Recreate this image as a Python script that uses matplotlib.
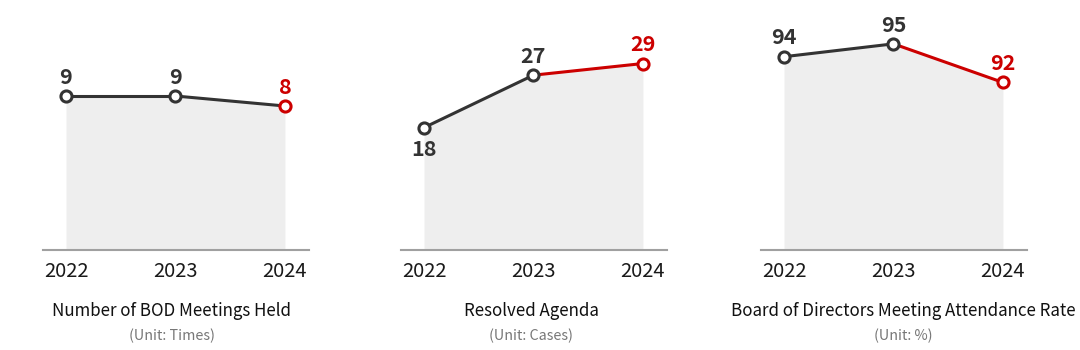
import matplotlib
matplotlib.use("Agg")
import matplotlib.pyplot as plt

plt.rcParams['font.family'] = ['Noto Sans CJK KR', 'DejaVu Sans']

# data
years = [2022, 2023, 2024]
meetings = [9, 9, 8]
agenda = [18, 27, 29]
attendance = [94, 95, 92]
titles = ["Number of BOD Meetings Held", "Resolved Agenda",
          "Board of Directors Meeting Attendance Rate"]
units = ["(Unit: Times)", "(Unit: Cases)", "(Unit: %)"]

DARK = "#333333"
RED = "#cc0000"
FILL = "#eeeeee"
BASE = "#a0a0a0"

fig = plt.figure(figsize=(10.8, 3.5), dpi=100)
W, H = 1080, 350

# panel layout (pixels): left edge, y-limits, label side, colour of each segment, title centre
panels = [
    dict(vals=meetings, left=43, ylim=(-6.4, 18.6), side=['up', 'up', 'up'],
         seg=[DARK, DARK], cx=172),
    dict(vals=agenda, left=401, ylim=(-3.0, 39.9), side=['down', 'up', 'up'],
         seg=[DARK, RED], cx=531),
    dict(vals=attendance, left=761, ylim=(78.97, 98.41), side=['up', 'up', 'up'],
         seg=[DARK, RED], cx=903),
]

for p, title, unit in zip(panels, titles, units):
    ax = fig.add_axes([p['left'] / W, 1 - 250 / H, 266 / W, 250 / H])
    vals = p['vals']
    ax.set_xlim(2021.79, 2024.22)
    ax.set_ylim(*p['ylim'])
    ax.fill_between(years, vals, p['ylim'][0], color=FILL, lw=0, zorder=1)
    for i in range(len(years) - 1):
        ax.plot(years[i:i + 2], vals[i:i + 2], color=p['seg'][i], lw=2.2,
                solid_capstyle='round', zorder=2)
    for i, (x, v) in enumerate(zip(years, vals)):
        c = RED if i == len(years) - 1 else DARK
        ax.plot(x, v, 'o', ms=8, mfc='white', mec=c, mew=2.2, zorder=3)
        if p['side'][i] == 'up':
            ax.annotate(str(v), (x, v), xytext=(0, 6), textcoords='offset points',
                        ha='center', va='bottom', fontsize=15.5, color=c,
                        fontweight='bold')
        else:
            ax.annotate(str(v), (x, v), xytext=(0, -8), textcoords='offset points',
                        ha='center', va='top', fontsize=15.5, color=c,
                        fontweight='bold')
    for s in ['top', 'right', 'left']:
        ax.spines[s].set_visible(False)
    ax.spines['bottom'].set_color(BASE)
    ax.spines['bottom'].set_linewidth(1.5)
    ax.set_yticks([])
    ax.set_xticks(years)
    ax.set_xticklabels([str(y) for y in years], fontsize=14.5, color='#1a1a1a')
    ax.tick_params(axis='x', length=0, pad=8)
    ax.set_facecolor('none')
    fig.text(p['cx'] / W, 1 - 311 / H, title, ha='center', va='center',
             fontsize=12.2, color='#111111')
    fig.text(p['cx'] / W, 1 - 336 / H, unit, ha='center', va='center',
             fontsize=10.3, color='#777777')

fig.savefig("out.png", dpi=100)
